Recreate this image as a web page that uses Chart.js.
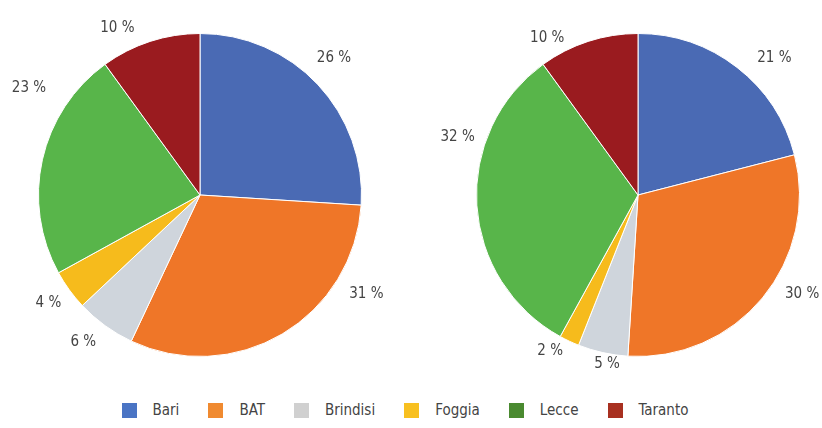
<!DOCTYPE html>
<html><head><meta charset="utf-8">
<script src="https://cdn.jsdelivr.net/npm/chart.js@4"></script>
<style>
html,body{margin:0;padding:0;background:#fff;width:822px;height:428px;overflow:hidden;font-family:"Liberation Sans Narrow","DejaVu Sans Condensed",sans-serif}
.wrap{position:absolute;top:0;width:400px;height:390px}
#legend{position:absolute;left:0;top:401px;width:822px;display:flex;justify-content:center;gap:29px;font-size:15px;color:#444;padding-right:12px;box-sizing:border-box}
#legend .it{display:flex;align-items:center}
#legend .sw{width:15px;height:15px;margin-right:16px}
</style></head>
<body>
<div class="wrap" style="left:0"><canvas id="c1"></canvas></div>
<div class="wrap" style="left:438px"><canvas id="c2"></canvas></div>
<div id="legend"></div>
<script>
const categories = ["Bari","BAT","Brindisi","Foggia","Lecce","Taranto"];
const valuesLeft = [26,31,6,4,23,10];
const valuesRight = [21,30,5,2,32,10];
const sliceColors = ["#4a6ab4","#ef7628","#cfd5dc","#f6bb1c","#58b54a","#9a1b1f"];
const legendColors = ["#4a74c4","#f08a30","#d0d0d0","#f8c020","#4a8a30","#a83020"];

// label placement tweaks relative to each arc (degrees offset from mid-angle, px beyond outer radius)
const labelAdjLeft = [[-2.4,30],[-28.7,32],[2.5,26],[0.4,25],[19.3,40],[-8.3,25]];
const labelAdjRight = [[7,32],[-8.6,30],[-2.2,10],[4.1,18],[21.4,28],[-12,20]];

const labelPlugin = {
  id:'outLabels',
  afterDatasetsDraw(chart, args, opts){
    const ctx = chart.ctx;
    const meta = chart.getDatasetMeta(0);
    const data = chart.data.datasets[0].data;
    ctx.save();
    ctx.font = '15px "Liberation Sans Narrow","DejaVu Sans Condensed",sans-serif';
    ctx.fillStyle = '#444';
    ctx.textAlign = 'center';
    ctx.textBaseline = 'middle';
    meta.data.forEach((arc,i)=>{
      const p = arc.getProps(['x','y','startAngle','endAngle','outerRadius'],true);
      const adj = opts.adj[i];
      const a = (p.startAngle+p.endAngle)/2 + adj[0]*Math.PI/180;
      const r = p.outerRadius + adj[1];
      ctx.fillText(data[i] + ' %', p.x + r*Math.cos(a), p.y + r*Math.sin(a));
    });
    ctx.restore();
  }
};

function makePie(id, values, adj){
  return new Chart(document.getElementById(id), {
    type:'pie',
    data:{labels:categories, datasets:[{data:values, backgroundColor:sliceColors, borderColor:'#fff', borderWidth:1}]},
    options:{
      responsive:true, maintainAspectRatio:false, animation:false,
      layout:{padding:{top:33,bottom:33,left:0,right:0}},
      plugins:{legend:{display:false}, tooltip:{enabled:false}, outLabels:{adj:adj}}
    },
    plugins:[labelPlugin]
  });
}
makePie('c1', valuesLeft, labelAdjLeft);
makePie('c2', valuesRight, labelAdjRight);

const lg = document.getElementById('legend');
categories.forEach((c,i)=>{
  const it = document.createElement('div'); it.className='it';
  const sw = document.createElement('span'); sw.className='sw'; sw.style.background=legendColors[i];
  const tx = document.createElement('span'); tx.textContent=c;
  it.appendChild(sw); it.appendChild(tx); lg.appendChild(it);
});
</script>
</body></html>
